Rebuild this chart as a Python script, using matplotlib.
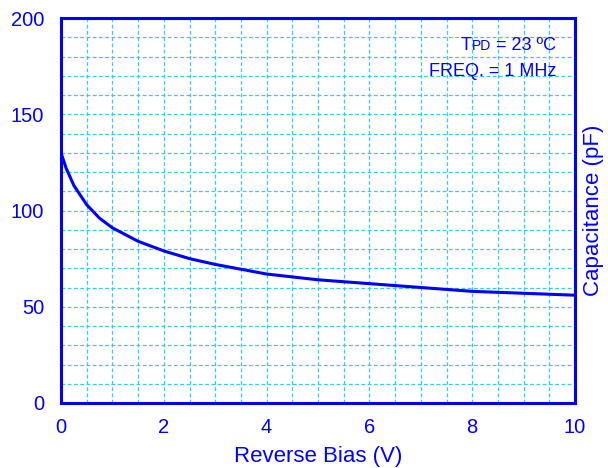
import matplotlib
matplotlib.use("Agg")
import matplotlib.pyplot as plt
from matplotlib.ticker import MultipleLocator

# reverse bias (V) vs capacitance (pF)
bias_v = [0, 0.1, 0.25, 0.5, 0.75, 1, 1.5, 2, 2.5, 3, 4, 5, 6, 7, 8, 9, 10]
cap_pf = [130, 122, 113, 103, 96, 91, 84, 79, 75, 72, 67, 64, 62, 60, 58, 57, 56]

BLUE = "#0000ff"
GRID = "#33ccf0"

plt.rcParams['font.family'] = ['Liberation Sans', 'DejaVu Sans']

fig = plt.figure(figsize=(6.08, 4.68), dpi=100)
ax = fig.add_axes([61 / 608, 65 / 468, 514 / 608, 385 / 468])

ax.plot(bias_v, cap_pf, color=BLUE, lw=2.2, solid_capstyle='butt')

ax.set_xlim(0, 10)
ax.set_ylim(0, 200)
ax.xaxis.set_major_locator(MultipleLocator(2))
ax.yaxis.set_major_locator(MultipleLocator(50))
ax.xaxis.set_minor_locator(MultipleLocator(0.5))
ax.yaxis.set_minor_locator(MultipleLocator(10))
ax.grid(which='both', color=GRID, ls=(0, (3, 2)), lw=0.9)
ax.tick_params(which='both', length=0, colors=BLUE, labelsize=14.5)
ax.tick_params(axis='x', pad=11)
ax.tick_params(axis='y', pad=12)
for s in ax.spines.values():
    s.set_color(BLUE)
    s.set_linewidth(2.2)

ax.set_xlabel("Reverse Bias (V)", color=BLUE, fontsize=16, labelpad=6)
ax.yaxis.set_label_position('right')
ax.set_ylabel("Capacitance (pF)", color=BLUE, fontsize=16, labelpad=6)

# annotation: T_PD with small PD
fig.canvas.draw()
r = fig.canvas.get_renderer()
t3 = fig.text(556 / 608, 1 - 45 / 468, " = 23 ºC", color=BLUE, fontsize=13, ha='right', va='center')
w3 = t3.get_window_extent(r).width
t2 = fig.text((556 - w3) / 608, 1 - 46 / 468, "PD", color=BLUE, fontsize=10, ha='right', va='center')
w2 = t2.get_window_extent(r).width
fig.text((556 - w3 - w2) / 608, 1 - 45 / 468, "T", color=BLUE, fontsize=13, ha='right', va='center')
fig.text(556 / 608, 1 - 72 / 468, "FREQ. = 1 MHz", color=BLUE, fontsize=13, ha='right', va='center')

fig.savefig("out.png", dpi=100)
